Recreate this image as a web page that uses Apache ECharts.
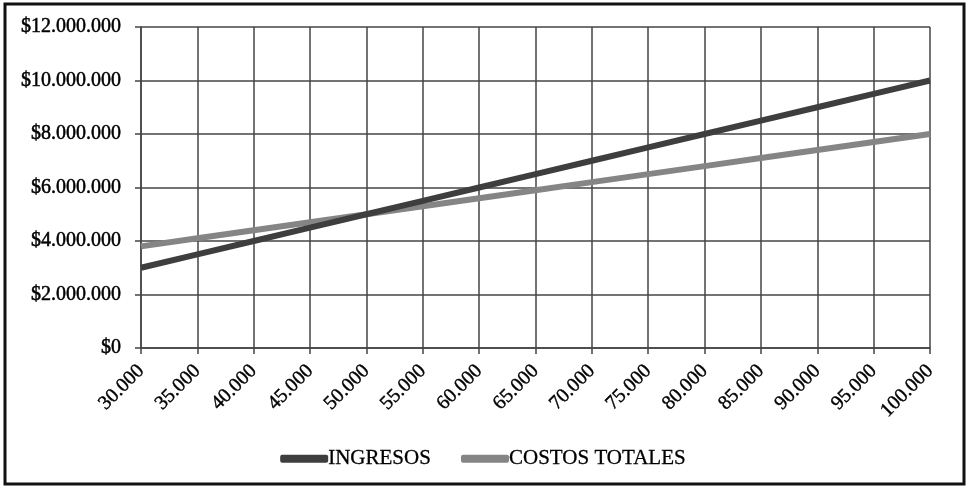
<!DOCTYPE html>
<html>
<head>
<meta charset="utf-8">
<script src="https://cdn.jsdelivr.net/npm/echarts@6/dist/echarts.min.js"></script>
<style>
html,body{margin:0;padding:0;background:#fff;}
#c{width:966px;height:489px;}
</style>
</head>
<body>
<div id="c"></div>
<script>
const categories = ['30.000','35.000','40.000','45.000','50.000','55.000','60.000','65.000','70.000','75.000','80.000','85.000','90.000','95.000','100.000'];
const ingresos = [3000000,3500000,4000000,4500000,5000000,5500000,6000000,6500000,7000000,7500000,8000000,8500000,9000000,9500000,10000000];
const costosTotales = [3800000,4100000,4400000,4700000,5000000,5300000,5600000,5900000,6200000,6500000,6800000,7100000,7400000,7700000,8000000];
const seriesNames = ['INGRESOS','COSTOS TOTALES'];

function fmt(v){
  return '$' + String(v).replace(/\B(?=(\d{3})+(?!\d))/g, '.');
}
const font = 'Liberation Serif';
const chart = echarts.init(document.getElementById('c'));
chart.setOption({
  animation:false,
  backgroundColor:'#fff',
  graphic:[{type:'rect',shape:{x:5,y:4,width:959,height:480},style:{fill:'none',stroke:'#111',lineWidth:3}}],
  grid:{left:141,right:36,top:27,bottom:141,containLabel:false},
  legend:{
    top:443,left:'center',
    data:seriesNames,
    icon:'roundRect',itemWidth:48,itemHeight:8,itemGap:30,
    textStyle:{fontFamily:font,fontSize:21,color:'#000',padding:[0,0,0,-5],textBorderColor:'#000',textBorderWidth:0.3}
  },
  xAxis:{
    type:'category',data:categories,boundaryGap:false,
    axisLine:{lineStyle:{color:'#444',width:1.5}},
    axisTick:{show:true,length:6,alignWithLabel:true,lineStyle:{color:'#444',width:1.5}},
    splitLine:{show:true,lineStyle:{color:'#444',width:1.5}},
    axisLabel:{rotate:45,fontFamily:font,fontSize:20,color:'#000',margin:20,interval:0,textBorderColor:'#000',textBorderWidth:0.4}
  },
  yAxis:{
    type:'value',min:0,max:12000000,interval:2000000,
    axisLine:{show:true,lineStyle:{color:'#444',width:1.5}},
    axisTick:{show:true,length:6,lineStyle:{color:'#444',width:1.5}},
    splitLine:{show:true,lineStyle:{color:'#444',width:1.5}},
    axisLabel:{formatter:fmt,fontFamily:font,fontSize:20,color:'#000',margin:20,textBorderColor:'#000',textBorderWidth:0.5}
  },
  series:[
    {name:seriesNames[0],type:'line',data:ingresos,symbol:'none',lineStyle:{color:'#3e3e3e',width:6},itemStyle:{color:'#3e3e3e'},z:3},
    {name:seriesNames[1],type:'line',data:costosTotales,symbol:'none',lineStyle:{color:'#858585',width:6},itemStyle:{color:'#858585'},z:2}
  ]
});
</script>
</body>
</html>
